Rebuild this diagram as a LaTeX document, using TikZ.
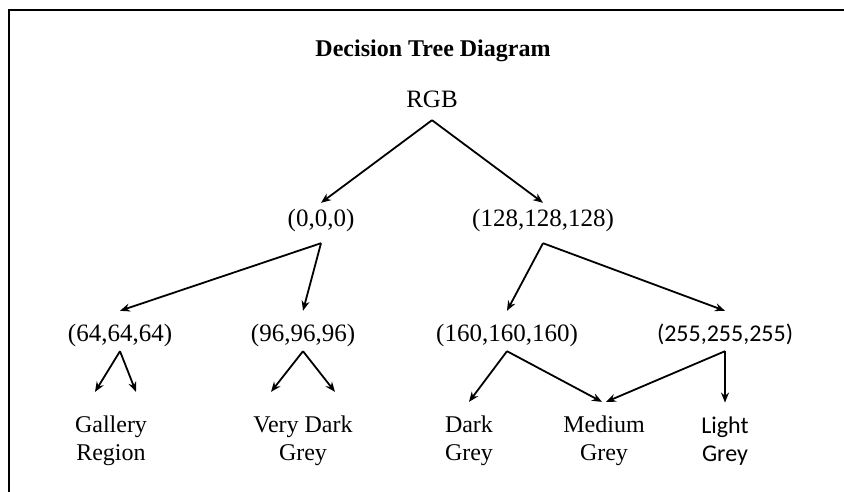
\documentclass[tikz,border=0pt]{standalone}
\usepackage{fontspec}
\usetikzlibrary{arrows.meta}
\setmainfont{Liberation Serif}
\newfontfamily\calibri{Carlito}
\tikzset{
  lvlone/.style={inner xsep=0pt, inner ysep=6pt, text height=17pt, text depth=11pt},
  lvltwo/.style={inner xsep=0pt, inner ysep=6pt, text height=24pt, text depth=4pt},
  leaf/.style={align=center, inner xsep=0pt, inner ysep=14pt, font=\fontsize{24}{28}\selectfont},
  edge/.style={->, line width=1.8pt}
}
\begin{document}
\begin{tikzpicture}[x=1pt, y=-1pt, >={Stealth[length=10pt, width=8pt]}, font=\fontsize{25}{30}\selectfont]
				\useasboundingbox (0,0) rectangle (844,492);
				\draw[line width=2pt] (9,492) -- (9,10) -- (844,10);
				\node[font=\fontsize{24}{30}\selectfont\bfseries] (title) at (433,51) {Decision Tree Diagram};
				\node[lvlone, text depth=6pt] (rgb) at (432,102.5) {RGB};
				\node[lvlone] (c0) at (321,223) {(0,0,0)};
				\node[lvlone] (c128) at (543,223) {(128,128,128)};
				\node[lvltwo] (c64) at (120,331) {(64,64,64)};
				\node[lvltwo] (c96) at (303,331) {(96,96,96)};
				\node[lvltwo] (c160) at (507,331) {(160,160,160)};
				\node[lvltwo, font=\calibri\fontsize{24}{30}\selectfont] (c255) at (725,331) {(255,255,255)};
				\node[leaf] (gal) at (111,441) {Gallery\\Region};
				\node[leaf] (vdg) at (303,441) {Very Dark\\Grey};
				\node[leaf] (dg) at (469,441) {Dark\\Grey};
				\node[leaf] (mg) at (604,441) {Medium\\Grey};
				\node[leaf, font=\calibri\fontsize{24}{28}\selectfont] (lg) at (725,441) {Light\\Grey};
				\draw[edge] (rgb.south) -- (c0.north);
				\draw[edge] (rgb.south) -- (c128.north);
				\draw[edge] (c0.south) -- (c64.north);
				\draw[edge] (c0.south) -- (c96.north);
				\draw[edge] (c128.south) -- (c160.north);
				\draw[edge] (c128.south) -- (c255.north);
				\draw[edge] (c64.south) -- ([xshift=-16pt, yshift=10pt]gal.north);
				\draw[edge] (c64.south) -- ([xshift=25pt, yshift=10pt]gal.north);
				\draw[edge] (c96.south) -- ([xshift=-32pt, yshift=10pt]vdg.north);
				\draw[edge] (c96.south) -- ([xshift=32pt, yshift=10pt]vdg.north);
				\draw[edge] (c160.south) -- (dg.north);
				\draw[edge] (c160.south) -- ([xshift=-2pt]mg.north);
				\draw[edge] (c255.south) -- ([xshift=2pt]mg.north);
				\draw[edge] (c255.south) -- (lg.north);
			\end{tikzpicture}
\end{document}
